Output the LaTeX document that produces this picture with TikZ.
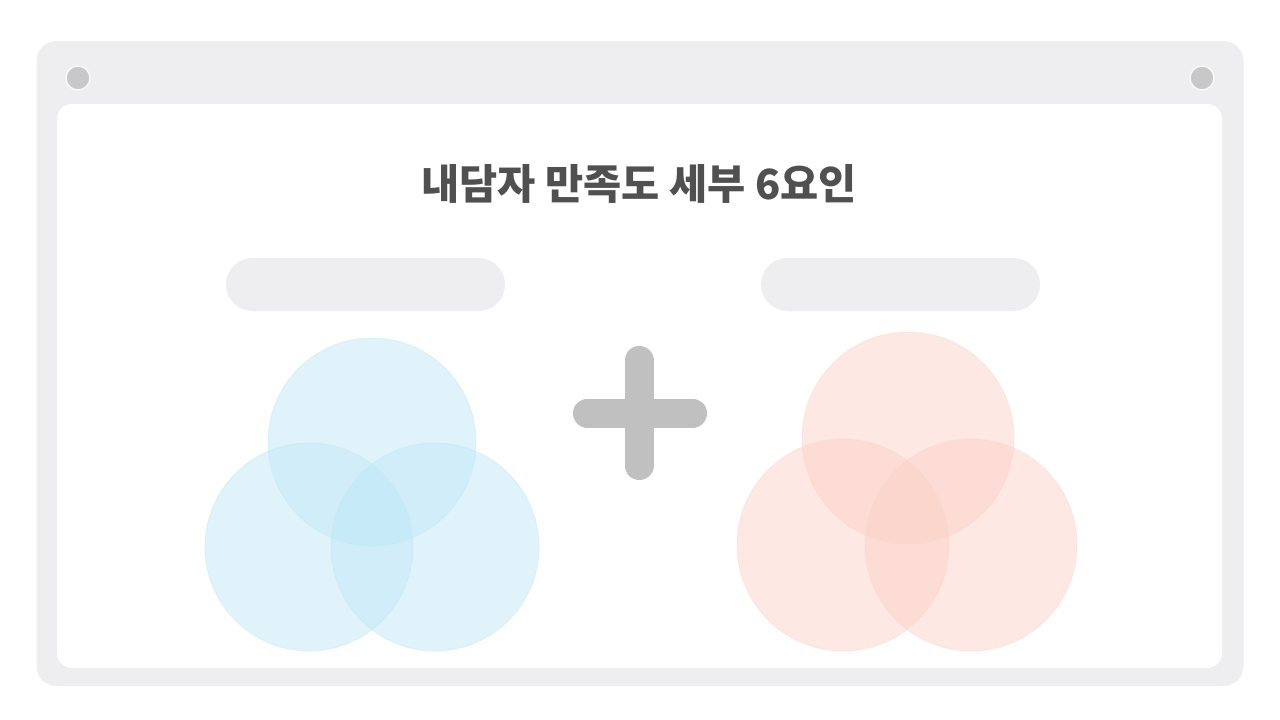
\documentclass[tikz,border=0pt]{standalone}
\usepackage{fontspec}
\usepackage{tikz}
\newfontfamily\krfont{Noto Sans CJK KR}
\definecolor{frame}{RGB}{238,238,240}
\definecolor{knob}{RGB}{200,200,200}
\definecolor{titlegray}{RGB}{80,80,80}
\definecolor{plusgray}{RGB}{192,192,192}
\definecolor{skyfill}{RGB}{191,232,247}
\definecolor{skyline}{RGB}{196,232,236}
\definecolor{peachfill}{RGB}{251,209,197}
\definecolor{peachline}{RGB}{251,214,204}

\begin{document}
\begin{tikzpicture}[x=1pt,y=-1pt]

        \useasboundingbox[fill=white] (0,0) rectangle (1280,720);

        \begin{scope}[every node/.style={rectangle, inner sep=0pt, outer sep=0pt}]
          \node[fill=frame, rounded corners=20pt, minimum width=1207pt, minimum height=645pt] (frame) at (640,363.5) {};
          \node[fill=white, rounded corners=15pt, minimum width=1165pt, minimum height=564pt] (page) at (639.5,386) {};
          \node[fill=frame, rounded corners=26.5pt, minimum width=279pt, minimum height=53pt] (pill1) at (365.5,284.5) {};
          \node[fill=frame, rounded corners=26.5pt, minimum width=279pt, minimum height=53pt] (pill2) at (900.5,284.5) {};
        \end{scope}

        \begin{scope}[every node/.style={circle, fill=knob, draw=white!60!frame, line width=1.5pt, minimum size=24pt, inner sep=0pt}]
          \node (k1) at (78,78) {};
          \node (k2) at (1202,78) {};
        \end{scope}

        \node[text=titlegray, font=\krfont\bfseries\fontsize{41.5}{46}\selectfont] (title) at (639,184) {내담자 만족도 세부 6요인};

        \draw[plusgray, line width=29pt, line cap=round] (587.5,413) -- (692.5,413);
        \draw[plusgray, line width=29pt, line cap=round] (639,360.5) -- (639,465.5);

        \begin{scope}[every node/.style={circle, inner sep=0pt, minimum size=208pt, fill=skyfill, fill opacity=.48, draw=skyline, draw opacity=.4, line width=1pt}]
          \node (b1) at (372,442) {};
          \node (b2) at (309,547) {};
          \node (b3) at (435,547) {};
        \end{scope}

        \begin{scope}[every node/.style={circle, inner sep=0pt, minimum size=212pt, fill=peachfill, fill opacity=.48, draw=peachline, draw opacity=.35, line width=1pt}]
          \node (r1) at (908,438) {};
          \node (r2) at (843,545) {};
          \node (r3) at (971,545) {};
        \end{scope}

      \end{tikzpicture}
\end{document}
